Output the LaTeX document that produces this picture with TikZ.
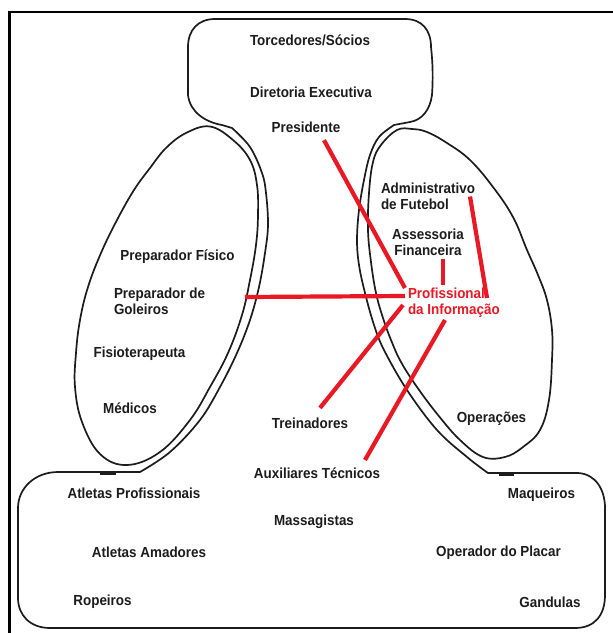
\documentclass[tikz,border=0pt]{standalone}
\usepackage{fontspec}
\setmainfont{Liberation Sans}[FakeStretch=0.92]
\usetikzlibrary{calc}
\definecolor{redc}{RGB}{232,24,36}
\definecolor{ink}{RGB}{28,28,28}
\begin{document}
\begin{tikzpicture}[x=1pt,y=-1pt,
  lbl/.style={font=\fontsize{14.6}{16.5}\selectfont\bfseries, text=ink, inner sep=0pt, outer sep=0pt},
  outline/.style={draw=ink, line width=1.7pt, line join=round},
  jointmark/.style={draw=ink, line width=3.4pt},
  redline/.style={draw=redc, line width=4.2pt},
  framel/.style={draw=black, line width=2.6pt}]
\useasboundingbox (0,0) rectangle (613,633);
\fill[white] (0,0) rectangle (613,633);
% frame (top and left only)
\draw[framel] (9.3,633) -- (9.3,12) -- (613,12);
% main outline: top blob, right neck, bottom blob, left neck
\draw[outline] (215,19) -- (405,19) .. controls (422,19) and (431,30) .. (431,47)
  .. controls (433,65) and (433,80) .. (432,95)
  .. controls (430,110) and (422,120) .. (410,122) -- (394,125)
  -- plot[smooth, tension=0.6] coordinates {(394,125) (379,137) (370,155) (364,180) (359,210) (357,240) (359,265) (365,293) (374,325) (384,350) (407,390) (437,430) (467,457) (488,473)}
  -- (578,473) .. controls (596,474) and (605,490) .. (605,508)
  -- (605,595) .. controls (605,615) and (595,628) .. (575,628)
  -- (50,628) .. controls (30,628) and (18,615) .. (18,598)
  -- (18,508) .. controls (18,488) and (35,472) .. (58,472)
  -- (140,472)
  -- plot[smooth, tension=0.6] coordinates {(140,472) (170,452) (200,420) (220,387) (237,353) (250,320) (259,287) (265,253) (268,225) (266,193) (262,173) (250,147) (232,128)}
  -- (222,125) .. controls (205,122) and (190,112) .. (188,95)
  -- (188,47) .. controls (188,30) and (198,19) .. (215,19) -- cycle;
% small thick marks where the necks meet the lower part
\draw[jointmark] (100,473) -- (116,473);
\draw[jointmark] (499,474.5) -- (514,474.5);
% left ellipse
\draw[outline] plot[smooth cycle, tension=0.65] coordinates {(210,126.5) (233,140) (250,160) (257,185) (258,215) (256,245) (250,280) (242,315) (228,353) (210,387) (190,420) (160,452) (127,465) (100,454) (82,422) (75,387) (76,353) (80,320) (88,287) (101,253) (117,220) (134,190) (150,168) (166,148) (186,133)};
% right ellipse
\draw[outline] plot[smooth cycle, tension=0.65] coordinates {(397,130) (412,129) (427,132) (447,143) (470,160) (493,187) (513,217) (527,250) (538,275) (547,300) (552,330) (552,360) (549,400) (540,430) (523,447) (505,457) (483,457) (460,440) (438,415) (417,387) (401,362) (391,340) (383,318) (376,293) (371,262) (368,230) (369,193) (373,162) (381,145)};
% labels
\node[lbl, anchor=base] (tor) at (310,45.5) {Torcedores/Sócios};
\node[lbl, anchor=base] (dir) at (311,97.5) {Diretoria Executiva};
\node[lbl, anchor=base] (pres) at (306,132.5) {Presidente};
\node[lbl, anchor=north west, align=left] (adm) at (381,182.5) {Administrativo\\de Futebol};
\node[lbl, anchor=north, align=center] (ass) at (428,228.5) {Assessoria\\Financeira};
\node[lbl, anchor=north west, align=left, text=redc] (prof) at (408,287.5) {Profissional\\da Informação};
\node[lbl, anchor=base] (pf) at (177.5,260.5) {Preparador Físico};
\node[lbl, anchor=north west, align=left] (gol) at (114,287.5) {Preparador de\\Goleiros};
\node[lbl, anchor=base] (fis) at (139.5,357.5) {Fisioterapeuta};
\node[lbl, anchor=base] (med) at (130,413.5) {Médicos};
\node[lbl, anchor=base] (trei) at (310,428.5) {Treinadores};
\node[lbl, anchor=base] (aux) at (317,478.5) {Auxiliares Técnicos};
\node[lbl, anchor=base] (ope) at (491.5,422.5) {Operações};
\node[lbl, anchor=base] (atp) at (134,498.5) {Atletas Profissionais};
\node[lbl, anchor=base] (maq) at (541.5,498.5) {Maqueiros};
\node[lbl, anchor=base] (mas) at (314,525.5) {Massagistas};
\node[lbl, anchor=base] (ata) at (149,557.5) {Atletas Amadores};
\node[lbl, anchor=base] (opp) at (498.5,556.5) {Operador do Placar};
\node[lbl, anchor=base] (rop) at (102.5,605.5) {Ropeiros};
\node[lbl, anchor=base] (gan) at (550,607.5) {Gandulas};
% red connectors
\draw[redline] ($(pres.south)+(18,7.5)$) -- ($(prof.north west)+(-3,0.5)$);
\draw[redline] ($(adm.north west)+(89,14)$) -- ($(prof.north west)+(79,10.5)$);
\draw[redline] ($(ass.south)+(15,3)$) -- ($(prof.north west)+(35,-2.5)$);
\draw[redline] ($(gol.north west)+(131,9.5)$) -- ($(prof.north west)+(-3,8.5)$);
\draw[redline] ($(prof.north west)+(-5,17.5)$) -- ($(trei.north)+(10,-10)$);
\draw[redline] ($(prof.north west)+(37,32.5)$) -- ($(aux.base)+(48,-18.5)$);
\end{tikzpicture}
\end{document}
